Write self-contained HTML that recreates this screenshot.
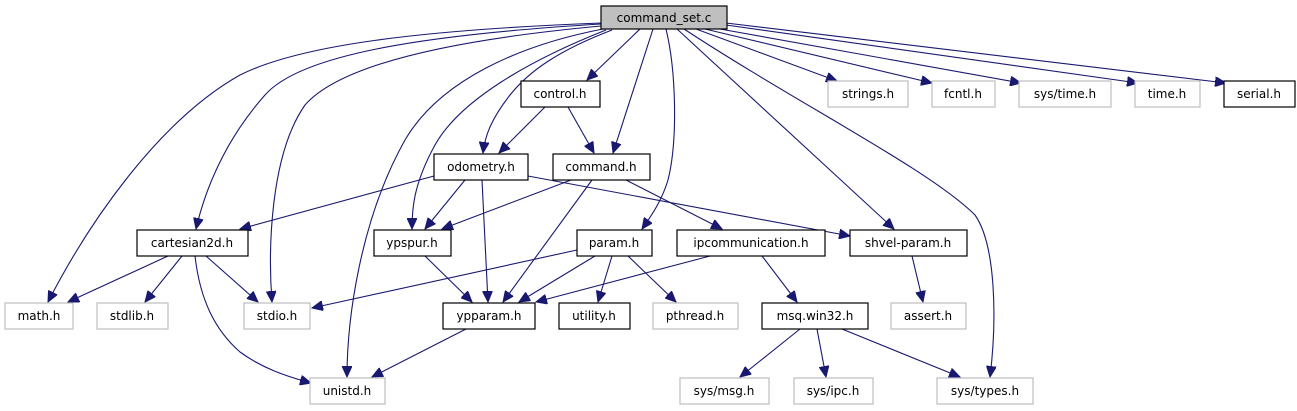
<!DOCTYPE html>
<html><head><meta charset="utf-8"><style>
html,body{margin:0;padding:0;background:#fff;}
svg{display:block;}
text{font-family:"DejaVu Sans","Liberation Sans",sans-serif;font-size:12px;fill:#000;}
.e{fill:none;stroke:#191970;stroke-width:1.1;marker-end:url(#a);}
.b{fill:#fff;stroke:#000;stroke-width:1.2;}
.g{fill:#fff;stroke:#bfbfbf;stroke-width:1.2;}
</style></head><body>
<svg width="1297" height="411" viewBox="0 0 1297 411" xmlns="http://www.w3.org/2000/svg">
<defs><marker id="a" markerUnits="userSpaceOnUse" markerWidth="12" markerHeight="10" refX="11" refY="5" orient="auto"><path d="M0,0 L11,5 L0,10 Z" fill="#191970" stroke="#191970"/></marker></defs>
<path class="e" d="M601,23 C420,30 300,45 240,75 C160,120 90,220 48,302"/>
<path class="e" d="M601,24 C420,35 300,55 265,95 C225,140 205,190 196,229"/>
<path class="e" d="M601,26 C450,40 340,65 305,105 C270,155 268,250 272,302"/>
<path class="e" d="M603,29 C520,45 440,80 405,140 C360,220 347,320 347,377"/>
<path class="e" d="M606,30 C530,60 460,100 435,145 C413,185 412,210 412,229"/>
<path class="e" d="M612,30 C560,50 530,70 510,95 C492,118 485,135 483,153"/>
<path class="e" d="M640,29 L587,80"/>
<path class="e" d="M653,29 L613,153"/>
<path class="e" d="M666,29 C676,70 678,140 668,180 C662,200 652,215 642,229"/>
<path class="e" d="M677,29 L894,229"/>
<path class="e" d="M684,29 C800,105 930,170 975,215 C996,245 997,320 990,377"/>
<path class="e" d="M696,29 L837,81"/>
<path class="e" d="M705,29 L932,83"/>
<path class="e" d="M720,29 L1021,83"/>
<path class="e" d="M726,25 L1138,83"/>
<path class="e" d="M726,23 L1226,83"/>
<path class="e" d="M545,107 L499,153"/>
<path class="e" d="M568,107 L594,153"/>
<path class="e" d="M434,176 L240,229"/>
<path class="e" d="M465,180 L425,229"/>
<path class="e" d="M482,180 L488,302"/>
<path class="e" d="M528,176 L850,236"/>
<path class="e" d="M571,180 L442,229"/>
<path class="e" d="M592,180 L503,302"/>
<path class="e" d="M626,180 L722,229"/>
<path class="e" d="M577,250 L312,308"/>
<path class="e" d="M595,256 L519,302"/>
<path class="e" d="M612,256 L598,302"/>
<path class="e" d="M628,256 L676,302"/>
<path class="e" d="M710,256 L536,302"/>
<path class="e" d="M762,256 L797,302"/>
<path class="e" d="M912,256 L923,302"/>
<path class="e" d="M168,256 L68,302"/>
<path class="e" d="M182,256 L145,302"/>
<path class="e" d="M206,256 L258,302"/>
<path class="e" d="M195,256 C200,300 215,330 240,352 C262,368 285,376 311,383"/>
<path class="e" d="M425,256 L472,302"/>
<path class="e" d="M466,329 L372,377"/>
<path class="e" d="M800,329 L740,377"/>
<path class="e" d="M817,329 L826,377"/>
<path class="e" d="M842,329 L960,377"/>
<rect x="601" y="6" width="126" height="23" fill="#bfbfbf" stroke="#000" stroke-width="1.2"/>
<text x="664" y="22" text-anchor="middle">command_set.c</text>
<rect class="b" x="521" y="81" width="79" height="26"/><text x="560" y="98" text-anchor="middle">control.h</text>
<rect class="g" x="828" y="81" width="80" height="26"/><text x="868" y="98" text-anchor="middle">strings.h</text>
<rect class="g" x="932" y="81" width="63" height="26"/><text x="963" y="98" text-anchor="middle">fcntl.h</text>
<rect class="g" x="1019" y="81" width="92" height="26"/><text x="1065" y="98" text-anchor="middle">sys/time.h</text>
<rect class="g" x="1135" y="81" width="65" height="26"/><text x="1167" y="98" text-anchor="middle">time.h</text>
<rect class="b" x="1224" y="81" width="71" height="26"/><text x="1259" y="98" text-anchor="middle">serial.h</text>
<rect class="b" x="434" y="154" width="94" height="26"/><text x="481" y="171" text-anchor="middle">odometry.h</text>
<rect class="b" x="553" y="154" width="97" height="26"/><text x="601" y="171" text-anchor="middle">command.h</text>
<rect class="b" x="137" y="230" width="111" height="26"/><text x="192" y="247" text-anchor="middle">cartesian2d.h</text>
<rect class="b" x="374" y="230" width="77" height="26"/><text x="412" y="247" text-anchor="middle">ypspur.h</text>
<rect class="b" x="577" y="230" width="75" height="26"/><text x="614" y="247" text-anchor="middle">param.h</text>
<rect class="b" x="677" y="230" width="148" height="26"/><text x="751" y="247" text-anchor="middle">ipcommunication.h</text>
<rect class="b" x="850" y="230" width="117" height="26"/><text x="908" y="247" text-anchor="middle">shvel-param.h</text>
<rect class="g" x="5" y="303" width="68" height="26"/><text x="39" y="320" text-anchor="middle">math.h</text>
<rect class="g" x="97" y="303" width="71" height="26"/><text x="132" y="320" text-anchor="middle">stdlib.h</text>
<rect class="g" x="244" y="303" width="66" height="26"/><text x="277" y="320" text-anchor="middle">stdio.h</text>
<rect class="b" x="443" y="303" width="92" height="26"/><text x="489" y="320" text-anchor="middle">ypparam.h</text>
<rect class="b" x="559" y="303" width="71" height="26"/><text x="594" y="320" text-anchor="middle">utility.h</text>
<rect class="g" x="653" y="303" width="85" height="26"/><text x="695" y="320" text-anchor="middle">pthread.h</text>
<rect class="b" x="762" y="303" width="106" height="26"/><text x="815" y="320" text-anchor="middle">msq.win32.h</text>
<rect class="g" x="891" y="303" width="75" height="26"/><text x="928" y="320" text-anchor="middle">assert.h</text>
<rect class="g" x="310" y="378" width="75" height="26"/><text x="347" y="395" text-anchor="middle">unistd.h</text>
<rect class="g" x="680" y="378" width="89" height="26"/><text x="724" y="395" text-anchor="middle">sys/msg.h</text>
<rect class="g" x="794" y="378" width="79" height="26"/><text x="833" y="395" text-anchor="middle">sys/ipc.h</text>
<rect class="g" x="937" y="378" width="96" height="26"/><text x="985" y="395" text-anchor="middle">sys/types.h</text>
</svg>
</body></html>
